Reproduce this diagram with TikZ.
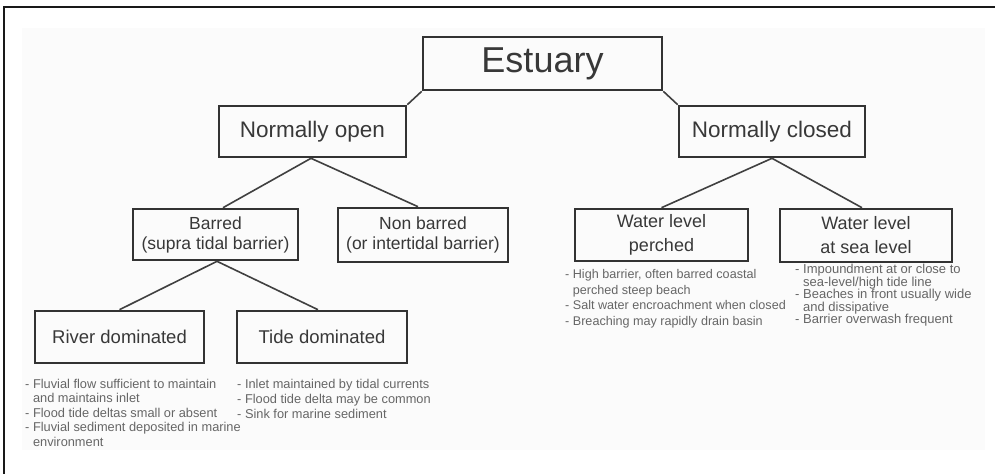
\documentclass[tikz,border=0pt]{standalone}
\usepackage{fontspec}
\setmainfont{Liberation Sans}
\begin{document}
\begin{tikzpicture}[x=1pt,y=-1pt,
  box/.style={draw=black!80, line width=2.6pt, text=black!78, inner sep=0pt, align=center},
  link/.style={draw=black!75, line width=1.6pt},
  note/.style={anchor=north west, inner sep=0pt, align=left, text=black!60},
]
\useasboundingbox (0,0) rectangle (995,474);
% soft paper tone behind the chart
\fill[black!1.5] (22,28) rectangle (985,450);
% frame (top and left edges)
\draw[line width=2pt, black!90] (995,7) -- (4,7) -- (4,474);

% boxes
\node[box, minimum width=239pt, minimum height=53pt, font=\fontsize{36}{40}\selectfont] (est) at (542.5,63.5) {Estuary};
\node[box, minimum width=187pt, minimum height=51pt, font=\fontsize{22.5}{26}\selectfont] (open) at (312.5,131.5) {Normally open};
\node[box, minimum width=186pt, minimum height=51pt, font=\fontsize{22.5}{26}\selectfont] (closed) at (772,131.5) {Normally closed};

\node[box, minimum width=165pt, minimum height=51pt, font=\fontsize{17.5}{20}\selectfont] (barred) at (215.5,234.5) {Barred\\(supra tidal barrier)};
\node[box, minimum width=170pt, minimum height=54pt, font=\fontsize{17.5}{20}\selectfont] (nonbarred) at (423,235) {Non barred\\(or intertidal barrier)};
\node[box, minimum width=173pt, minimum height=52pt, font=\fontsize{18}{24}\selectfont] (perched) at (661.5,235) {Water level\\perched};
\node[box, minimum width=172pt, minimum height=53pt, font=\fontsize{18}{24}\selectfont] (sealevel) at (866,235.5) {Water level\\at sea level};

\node[box, minimum width=169pt, minimum height=52pt, font=\fontsize{18.5}{22}\selectfont] (river) at (119.5,337) {River dominated};
\node[box, minimum width=170pt, minimum height=52pt, font=\fontsize{18.5}{22}\selectfont] (tide) at (322,337) {Tide dominated};

% connectors
\draw[link] (est.south west) -- (open.north east);
\draw[link] (est.south east) -- (closed.north west);
\draw[link] ([xshift=-1.5pt]open.south) -- ([xshift=7.5pt]barred.north);
\draw[link] ([xshift=-1.5pt]open.south) -- ([xshift=-5pt]nonbarred.north);
\draw[link] (closed.south) -- (perched.north);
\draw[link] (closed.south) -- ([xshift=-4pt]sealevel.north);
\draw[link] ([xshift=1.5pt]barred.south) -- (river.north);
\draw[link] ([xshift=1.5pt]barred.south) -- ([xshift=-4pt]tide.north);

% notes
\node[note, font=\fontsize{12.8}{14.5}\selectfont] (rivernotes) at (25,379)
  {- Fluvial flow sufficient to maintain\\\phantom{- }and maintains inlet\\- Flood tide deltas small or absent\\- Fluvial sediment deposited in marine\\\phantom{- }environment};
\node[note, font=\fontsize{12.8}{15}\selectfont] (tidenotes) at (237,379)
  {- Inlet maintained by tidal currents\\- Flood tide delta may be common\\- Sink for marine sediment};
\node[note, font=\fontsize{12.6}{15.7}\selectfont] (perchednotes) at (565,269)
  {- High barrier, often barred coastal\\\phantom{- }perched steep beach\\- Salt water encroachment when closed\\- Breaching may rapidly drain basin};
\node[note, font=\fontsize{13}{12.5}\selectfont] (sealevelnotes) at (795,264)
  {- Impoundment at or close to\\\phantom{- }sea-level/high tide line\\- Beaches in front usually wide\\\phantom{- }and dissipative\\- Barrier overwash frequent};
\end{tikzpicture}
\end{document}
